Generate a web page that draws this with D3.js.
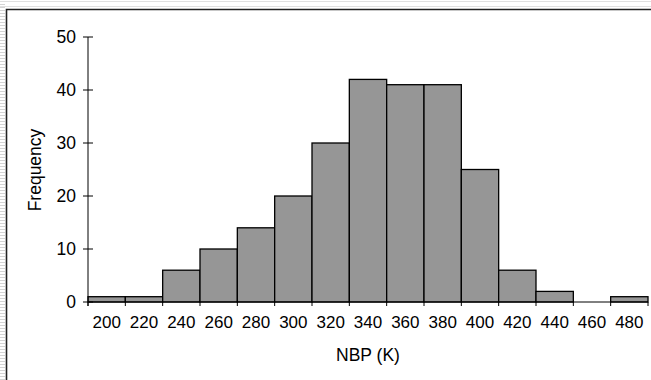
<!DOCTYPE html>
<html>
<head>
<meta charset="utf-8">
<script src="https://cdn.jsdelivr.net/npm/d3@7"></script>
<style>
body{margin:0;background:#fff;}
svg{display:block;font-family:"Liberation Sans",Arial,sans-serif;}
</style>
</head>
<body>
<svg id="c" width="651" height="380"></svg>
<script>
const bins = [200,220,240,260,280,300,320,340,360,380,400,420,440,460,480];
const freq = [1,1,6,10,14,20,30,42,41,41,25,6,2,0,1];
const yTicks = [0,10,20,30,40,50];
const xTitle = "NBP (K)";
const yTitle = "Frequency";

const svg = d3.select("#c");
const W = 651, H = 380;
const m = {l:88, r:3, t:37, b:78};

// outer decorations
const deco = svg.append("g");
for (let y = 1; y < H; y += 3) {
  deco.append("line").attr("x1",0).attr("x2",5).attr("y1",y+0.5).attr("y2",y+0.5)
    .attr("stroke","#d4d4d4").attr("stroke-width",1);
}
deco.append("line").attr("x1",0).attr("x2",W).attr("y1",1.5).attr("y2",1.5).attr("stroke","#e0e0e0");
deco.append("line").attr("x1",0).attr("x2",W).attr("y1",6.5).attr("y2",6.5).attr("stroke","#e0e0e0");
deco.append("path").attr("d",`M6.5,${H}V9.5H${W}`).attr("fill","none").attr("stroke","#222").attr("stroke-width",1.6);

const x = d3.scaleBand().domain(bins).range([m.l, W - m.r]).padding(0);
const y = d3.scaleLinear().domain([0,50]).range([302, m.t]);

// bars
svg.append("g").selectAll("rect").data(bins).join("rect")
  .attr("x", d => x(d))
  .attr("y", (d,i) => y(freq[i]))
  .attr("width", x.bandwidth())
  .attr("height", (d,i) => y(0) - y(freq[i]))
  .attr("fill", "#969696")
  .attr("stroke", "#000")
  .attr("stroke-width", 1.3)
  .attr("display", (d,i) => freq[i] > 0 ? null : "none");

// x axis
const xa = svg.append("g").attr("transform", `translate(0,${y(0)})`);
xa.append("line").attr("x1", m.l).attr("x2", W - m.r).attr("stroke","#000").attr("stroke-width",1);
const edges = bins.map(b => x(b)).concat([x(bins[bins.length-1]) + x.bandwidth()]);
xa.selectAll("line.tk").data(edges).join("line").attr("class","tk")
  .attr("x1", d => d).attr("x2", d => d).attr("y1", 0).attr("y2", 4)
  .attr("stroke","#000");
xa.selectAll("text").data(bins).join("text")
  .attr("x", d => x(d) + x.bandwidth()/2)
  .attr("y", 26)
  .attr("text-anchor","middle")
  .attr("font-size", 17)
  .attr("fill","#000")
  .text(d => d);

// y axis
const ya = svg.append("g").attr("transform", `translate(${m.l},0)`);
ya.append("line").attr("y1", y(50)).attr("y2", y(0) + 4).attr("stroke","#000");
ya.selectAll("line.tk").data(yTicks).join("line").attr("class","tk")
  .attr("x1",-5).attr("x2",5).attr("y1", d => y(d)).attr("y2", d => y(d)).attr("stroke","#000");
ya.selectAll("text").data(yTicks).join("text")
  .attr("x", -12).attr("y", d => y(d)).attr("dy","0.35em")
  .attr("text-anchor","end").attr("font-size",17.5).attr("fill","#000")
  .text(d => d);

// titles
svg.append("text").attr("x", (m.l + W - m.r)/2).attr("y", 361)
  .attr("text-anchor","middle").attr("font-size",17.5).text(xTitle);
svg.append("text").attr("transform", "translate(41,170) rotate(-90)")
  .attr("text-anchor","middle").attr("font-size",17.5).text(yTitle);
</script>
</body>
</html>
